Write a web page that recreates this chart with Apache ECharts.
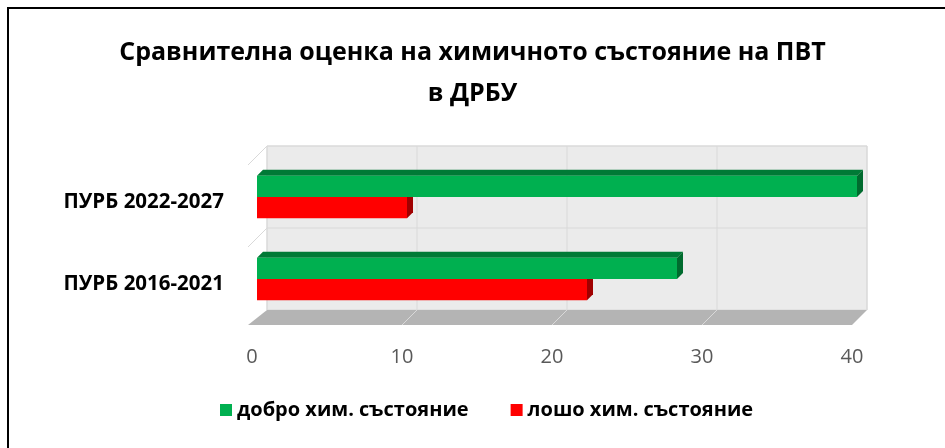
<!DOCTYPE html>
<html style="height: 100%">
<head>
<meta charset="utf-8">
<title>ECharts</title>
<script src="https://cdn.jsdelivr.net/npm/echarts@6/dist/echarts.min.js"></script>
</head>
<body style="height: 100%; margin: 0; background: #fff">
<div id="container" style="width: 945px; height: 448px"></div>
<script type="text/javascript">
var categories = ['ПУРБ 2016-2021', 'ПУРБ 2022-2027'];
var goodValues = [28, 40];
var badValues = [22, 10];
var xTicks = [0, 10, 20, 30, 40];

var DEPTH = 15;   // depth of the back wall
var SHIFT = 5;    // bars sit a little behind the front plane
var BAR_D = 6;    // bar thickness in depth

var myChart = echarts.init(document.getElementById('container'));

function toData(values) {
	var out = [];
	for (var i = 0; i < values.length; i++) {
		out.push([values[i], i]);
	}
	return out;
}

// back wall, floor and grid lines of the 3D box
function renderFrame(params, api) {
	var cs = params.coordSys;
	var band = api.size([0, 1])[1];
	var yB = cs.y + cs.height;
	var kids = [];
	kids.push({
		type : 'rect',
		shape : { x : cs.x + DEPTH, y : cs.y - DEPTH, width : cs.width, height : cs.height },
		style : { fill : '#ebebeb', stroke : '#d9d9d9', lineWidth : 1 }
	});
	for (var i = 0; i < xTicks.length; i++) {
		var px = api.coord([xTicks[i], 0])[0];
		kids.push({
			type : 'line',
			shape : { x1 : px + DEPTH, y1 : cs.y - DEPTH, x2 : px + DEPTH, y2 : yB - DEPTH },
			style : { stroke : '#d9d9d9', lineWidth : 1 }
		});
	}
	var bounds = [];
	for (var c = 0; c < categories.length; c++) {
		var yc = api.coord([0, c])[1];
		bounds.push(yc - band / 2);
	}
	for (var b = 0; b < bounds.length; b++) {
		kids.push({
			type : 'line',
			shape : { x1 : cs.x + DEPTH, y1 : bounds[b] - DEPTH, x2 : cs.x + cs.width + DEPTH, y2 : bounds[b] - DEPTH },
			style : { stroke : '#d9d9d9', lineWidth : 1 }
		});
		kids.push({
			type : 'line',
			shape : { x1 : cs.x - 4, y1 : bounds[b] + 4, x2 : cs.x + DEPTH, y2 : bounds[b] - DEPTH },
			style : { stroke : '#d9d9d9', lineWidth : 1 }
		});
	}
	kids.push({
		type : 'polygon',
		shape : { points : [[cs.x - 4, yB], [cs.x + cs.width, yB], [cs.x + cs.width + DEPTH, yB - DEPTH], [cs.x + DEPTH, yB - DEPTH]] },
		style : { fill : '#b4b4b4' }
	});
	for (var j = 1; j < xTicks.length; j++) {
		var fx = api.coord([xTicks[j], 0])[0];
		kids.push({
			type : 'line',
			shape : { x1 : fx, y1 : yB, x2 : fx + DEPTH, y2 : yB - DEPTH },
			style : { stroke : '#d9d9d9', lineWidth : 1 }
		});
	}
	return { type : 'group', children : kids };
}

function makeBarRenderer(slot, front, top, side) {
	return function(params, api) {
		var band = api.size([0, 1])[1];
		var barW = band * 0.26;
		var p0 = api.coord([0, api.value(1)]);
		var p1 = api.coord([api.value(0), api.value(1)]);
		var x0 = p0[0] + SHIFT;
		var x1 = p1[0] + SHIFT;
		var yt = p0[1] - barW + slot * barW - SHIFT;
		var yb = yt + barW;
		return {
			type : 'group',
			children : [ {
				type : 'polygon',
				shape : { points : [[x0, yt], [x1, yt], [x1 + BAR_D, yt - BAR_D], [x0 + BAR_D, yt - BAR_D]] },
				style : { fill : top }
			}, {
				type : 'polygon',
				shape : { points : [[x1, yt], [x1 + BAR_D, yt - BAR_D], [x1 + BAR_D, yb - BAR_D], [x1, yb]] },
				style : { fill : side }
			}, {
				type : 'rect',
				shape : { x : x0, y : yt, width : x1 - x0, height : barW },
				style : { fill : front }
			} ]
		};
	};
}

var option = {
	animation : false,
	textStyle : { fontFamily : 'Open Sans' },
	title : {
		text : 'Сравнителна оценка на химичното състояние на ПВТ\nв ДРБУ',
		left : 'center',
		top : 27,
		textStyle : {
			fontFamily : 'Open Sans',
			fontSize : 25,
			fontWeight : 'bold',
			color : '#000',
			lineHeight : 41
		}
	},
	legend : {
		bottom : 23,
		left : 215,
		icon : 'rect',
		itemWidth : 12,
		itemHeight : 12,
		itemGap : 42,
		textStyle : { fontFamily : 'Open Sans', fontSize : 20, fontWeight : 'bold', color : '#000' },
		data : [ 'добро хим. състояние', 'лошо хим. състояние' ]
	},
	grid : { left : 252, right : 93, top : 161, bottom : 123 },
	xAxis : {
		type : 'value',
		min : 0,
		max : 40,
		interval : 10,
		axisLine : { show : false },
		axisTick : { show : false },
		splitLine : { show : false },
		axisLabel : { fontSize : 20, color : '#595959', margin : 22 }
	},
	yAxis : {
		type : 'category',
		data : categories,
		axisLine : { show : false },
		axisTick : { show : false },
		axisLabel : { fontSize : 20.5, fontWeight : 'bold', color : '#000', margin : 28 }
	},
	graphic : [ {
		type : 'rect',
		shape : { x : 8, y : 8, width : 1000, height : 1000 },
		style : { fill : null, stroke : '#000', lineWidth : 2 },
		silent : true
	} ],
	series : [ {
		name : 'frame',
		type : 'custom',
		silent : true,
		z : 1,
		encode : { x : 0, y : 1 },
		data : [ [0, 0] ],
		renderItem : renderFrame
	}, {
		name : 'добро хим. състояние',
		type : 'custom',
		z : 3,
		itemStyle : { color : '#00b050' },
		encode : { x : 0, y : 1 },
		data : toData(goodValues),
		renderItem : makeBarRenderer(0, '#00b050', '#007a36', '#006b2e')
	}, {
		name : 'лошо хим. състояние',
		type : 'custom',
		z : 2,
		itemStyle : { color : '#ff0000' },
		encode : { x : 0, y : 1 },
		data : toData(badValues),
		renderItem : makeBarRenderer(1, '#ff0000', '#c00000', '#a00000')
	} ]
};

myChart.setOption(option);
</script>
</body>
</html>
